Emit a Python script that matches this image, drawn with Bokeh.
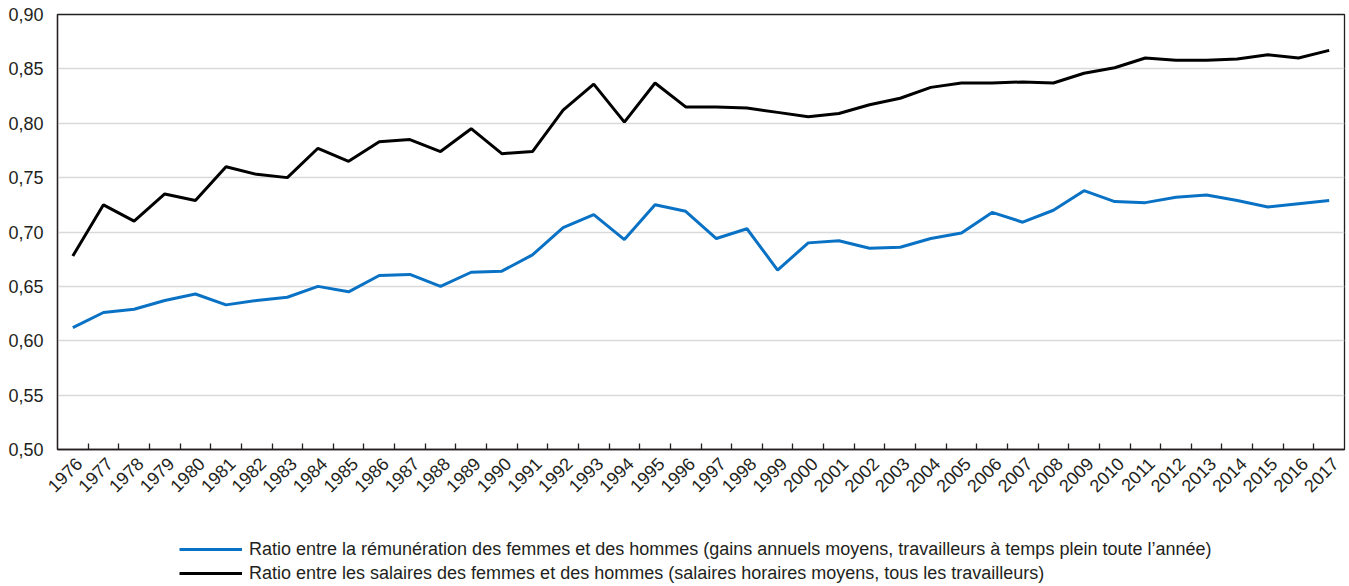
import math
from bokeh.plotting import figure
from bokeh.layouts import column
from bokeh.models import Range1d, FixedTicker, Legend, LegendItem
from bokeh.embed import file_html
from bokeh.resources import INLINE

years = list(range(1976, 2018))

remuneration_ratio = [
    0.612, 0.626, 0.629, 0.637, 0.643, 0.633, 0.637, 0.640, 0.650, 0.645,
    0.660, 0.661, 0.650, 0.663, 0.664, 0.679, 0.704, 0.716, 0.693, 0.725,
    0.719, 0.694, 0.703, 0.665, 0.690, 0.692, 0.685, 0.686, 0.694, 0.699,
    0.718, 0.709, 0.720, 0.738, 0.728, 0.727, 0.732, 0.734, 0.729, 0.723,
    0.726, 0.729,
]

salaires_ratio = [
    0.678, 0.725, 0.710, 0.735, 0.729, 0.760, 0.753, 0.750, 0.777, 0.765,
    0.783, 0.785, 0.774, 0.795, 0.772, 0.774, 0.812, 0.836, 0.801, 0.837,
    0.815, 0.815, 0.814, 0.810, 0.806, 0.809, 0.817, 0.823, 0.833, 0.837,
    0.837, 0.838, 0.837, 0.846, 0.851, 0.860, 0.858, 0.858, 0.859, 0.863,
    0.860, 0.867,
]

y_ticks = [0.5, 0.55, 0.6, 0.65, 0.7, 0.75, 0.8, 0.85, 0.9]
y_tick_labels = ["0,50", "0,55", "0,60", "0,65", "0,70", "0,75", "0,80", "0,85", "0,90"]

series_names = [
    "Ratio entre la rémunération des femmes et des hommes (gains annuels moyens, travailleurs à temps plein toute l’année)",
    "Ratio entre les salaires des femmes et des hommes (salaires horaires moyens, tous les travailleurs)",
]

BLUE = "#0a72c4"
BLACK = "#000000"
FONT = "Liberation Sans"
TEXT = "#231f20"

p = figure(
    width=1348, height=518,
    x_range=Range1d(years[0] - 0.5, years[-1] + 0.5),
    y_range=Range1d(y_ticks[0], y_ticks[-1]),
    output_backend="svg", toolbar_location=None,
    min_border_left=57, min_border_right=4, min_border_top=14, min_border_bottom=69,
)

p.line(years, remuneration_ratio, line_color=BLUE, line_width=3)
p.line(years, salaires_ratio, line_color=BLACK, line_width=3)

p.outline_line_color = "#231f20"
p.outline_line_width = 1.3

yax = p.yaxis[0]
yax.ticker = FixedTicker(ticks=y_ticks)
yax.major_label_overrides = {t: s for t, s in zip(y_ticks, y_tick_labels)}
yax.major_tick_in = 0
yax.major_tick_out = 0
yax.minor_tick_in = 0
yax.minor_tick_out = 0
yax.axis_line_color = "#231f20"
yax.axis_line_width = 1.3
yax.major_label_text_font = FONT
yax.major_label_text_font_size = "18px"
yax.major_label_text_color = TEXT
yax.major_label_standoff = 14

# labels sit slightly right of the category centre, ticks at category boundaries
label_pos = [y + 0.2 for y in years]
boundaries = [y + 0.5 for y in years[:-1]]
xax = p.xaxis[0]
xax.ticker = FixedTicker(ticks=label_pos, minor_ticks=boundaries)
xax.major_label_overrides = {lp: str(y) for lp, y in zip(label_pos, years)}
xax.major_tick_in = 0
xax.major_tick_out = 0
xax.minor_tick_in = 6
xax.minor_tick_out = 0
xax.minor_tick_line_color = "#231f20"
xax.minor_tick_line_width = 1.3
xax.axis_line_color = "#231f20"
xax.axis_line_width = 1.3
xax.major_label_orientation = math.pi / 4
xax.major_label_text_font = FONT
xax.major_label_text_font_size = "18px"
xax.major_label_text_color = TEXT
xax.major_label_standoff = 11

p.xgrid.visible = False
p.ygrid.ticker = FixedTicker(ticks=y_ticks)
p.ygrid.grid_line_color = "#d9d9d9"
p.ygrid.grid_line_width = 1.5

# legend panel (frame is aligned with the chart's frame by the column layout)
lg = figure(
    width=1348, height=66, output_backend="svg", toolbar_location=None,
    x_axis_location=None, y_axis_location=None,
    min_border_left=0, min_border_right=0, min_border_top=0, min_border_bottom=0,
)
lg.outline_line_color = None
lg.grid.visible = False
nan = float("nan")
lb = lg.line(x=[nan], y=[nan], line_color=BLUE, line_width=3)
lk = lg.line(x=[nan], y=[nan], line_color=BLACK, line_width=3)

legend = Legend(
    items=[LegendItem(label=series_names[0], renderers=[lb]),
           LegendItem(label=series_names[1], renderers=[lk])],
    orientation="vertical", location=(122, 0),
    glyph_width=63, glyph_height=22, label_height=22, label_width=10,
    spacing=2, padding=0, margin=0, label_standoff=7,
    border_line_color=None, background_fill_alpha=0,
    label_text_font=FONT, label_text_font_size="18px", label_text_color=TEXT,
)
lg.add_layout(legend)

open("out.html", "w").write(file_html(column(p, lg, spacing=0), INLINE))
